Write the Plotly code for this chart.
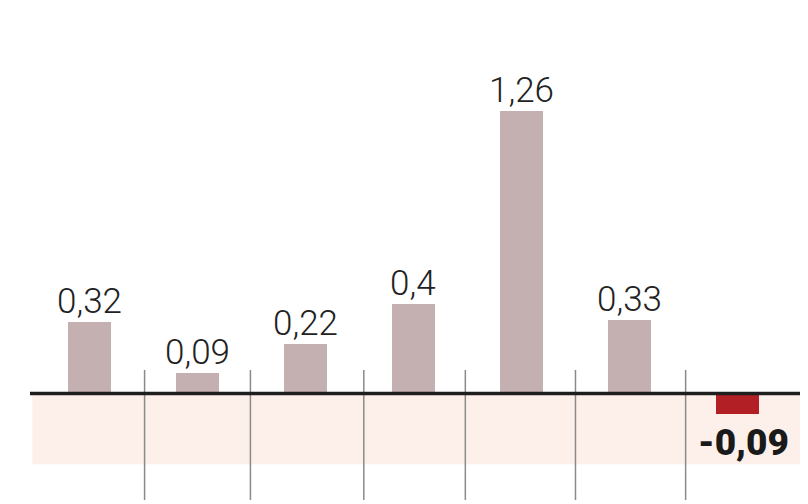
import plotly.graph_objects as go

categories = [0, 1, 2, 3, 4, 5, 6]
values = [0.32, 0.09, 0.22, 0.4, 1.26, 0.33, -0.09]
labels = [str(v).replace(".", ",") for v in values]
separators = [0.51, 1.49, 2.54, 3.48, 4.5, 5.52]

POS = "#c4afb1"
NEG = "#b21f24"
colors = [POS if v >= 0 else NEG for v in values]

fig = go.Figure()
fig.add_trace(go.Bar(
    x=categories, y=values, marker_color=colors, marker_line_width=0,
    width=0.4, hoverinfo="skip"))

shapes = [
    dict(type="rect", xref="paper", yref="y", x0=0.003, x1=1, y0=0, y1=-0.315,
         fillcolor="#fdf0eb", line_width=0, layer="below"),
]
for s in separators:
    shapes.append(dict(type="line", xref="x", yref="y", x0=s, x1=s, y0=0.105, y1=-0.475,
                       line=dict(color="#8a8a8a", width=1.5), layer="above"))
shapes.append(dict(type="line", xref="paper", yref="y", x0=0, x1=1, y0=0, y1=0,
                   line=dict(color="#1e1e1e", width=3.5), layer="above"))

annotations = []
for c, v, t in zip(categories, values, labels):
    if v >= 0:
        annotations.append(dict(x=c, y=v, text=t, showarrow=False, xanchor="center",
                                yanchor="bottom", yshift=-2,
                                font=dict(family="Roboto", size=35, color="#222222", weight=300)))
    else:
        annotations.append(dict(x=c, y=v, text=t, showarrow=False, xanchor="center",
                                yanchor="top", xshift=6, yshift=-5,
                                font=dict(family="Roboto", size=37, color="#1a1a1a", weight=900)))

fig.update_layout(
    width=808, height=504,
    margin=dict(l=22, r=16, t=0, b=0),
    paper_bgcolor="white", plot_bgcolor="white",
    showlegend=False,
    xaxis=dict(range=[-0.551, 6.579], showgrid=False, zeroline=False,
               showticklabels=False, ticks="", showline=False, fixedrange=True),
    yaxis=dict(range=[-0.5285, 1.7194], showgrid=False, zeroline=False,
               showticklabels=False, ticks="", showline=False, fixedrange=True),
    shapes=shapes,
    annotations=annotations,
    bargap=0,
)

fig.write_html("out.html")
